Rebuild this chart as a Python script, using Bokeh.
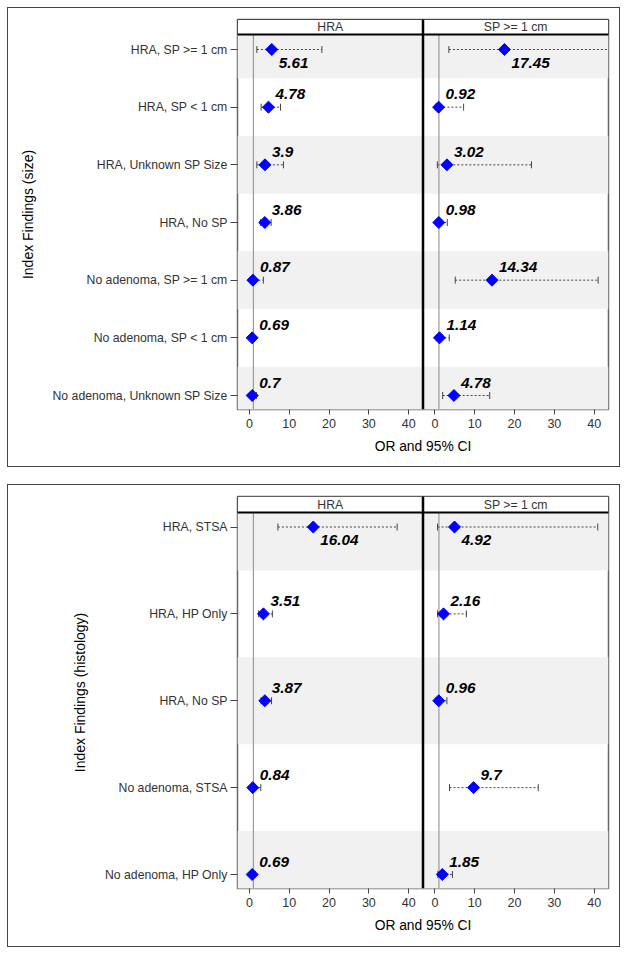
import numpy as np
from bokeh.plotting import figure
from bokeh.models import Range1d, FixedTicker, CustomJSTickFormatter, ColumnDataSource, Span
from bokeh.transform import dodge
from bokeh.layouts import column
from bokeh.embed import file_html
from bokeh.resources import INLINE
from bokeh.core.properties import value

# ---------------- data ----------------
panel_titles = ["HRA", "SP >= 1 cm"]
x_ticks = [0, 10, 20, 30, 40]
null_or = [1.0]

size_findings = ["HRA, SP >= 1 cm", "HRA, SP < 1 cm", "HRA, Unknown SP Size", "HRA, No SP",
                 "No adenoma, SP >= 1 cm", "No adenoma, SP < 1 cm", "No adenoma, Unknown SP Size"]
size_hra_or = [5.61, 4.78, 3.9, 3.86, 0.87, 0.69, 0.7]
size_hra_lo = [1.86, 2.94, 1.86, 2.75, 0.22, 0.40, 0.28]
size_hra_hi = [18.2, 7.8, 8.55, 5.45, 3.5, 1.15, 1.75]
size_sp_or = [17.45, 0.92, 3.02, 0.98, 14.34, 1.14, 4.78]
size_sp_lo = [3.5, 0.12, 0.6, 0.3, 5.1, 0.35, 1.94]
size_sp_hi = [88.0, 7.2, 24.25, 3.1, 41.0, 3.6, 13.76]

hist_findings = ["HRA, STSA", "HRA, HP Only", "HRA, No SP", "No adenoma, STSA", "No adenoma, HP Only"]
hist_hra_or = [16.04, 3.51, 3.87, 0.84, 0.69]
hist_hra_lo = [7.15, 2.33, 2.9, 0.25, 0.3]
hist_hra_hi = [37.1, 5.76, 5.55, 2.85, 1.5]
hist_sp_or = [4.92, 2.16, 0.96, 9.7, 1.85]
hist_sp_lo = [0.66, 0.66, 0.3, 3.66, 0.73]
hist_sp_hi = [40.9, 7.9, 3.0, 25.95, 4.4]

FONT = "Liberation Sans"
X0, X1 = -3.0, 43.6
W = X1 - X0


def make_block(findings, panels, ytitle, width, height, borders, header_px, pad_top, pad_bot):
    n = len(findings)
    ml, mr, mt, mb = borders
    frame_h = height - mt - mb
    data_h = frame_h - header_px
    s = (data_h - pad_top - pad_bot) / (n - 1)
    y_bottom = (n - 1) + pad_bot / s
    y_data_top = -pad_top / s
    y_top = y_data_top - header_px / s

    p = figure(width=width, height=height, title=None,
               x_range=Range1d(X0, X0 + 2 * W), y_range=Range1d(y_bottom, y_top),
               output_backend="svg", toolbar_location=None,
               min_border_left=ml, min_border_right=mr, min_border_top=mt, min_border_bottom=mb)
    p.background_fill_color = "white"
    p.border_fill_color = "white"
    p.outline_line_color = "#666666"
    p.outline_line_width = 1.5
    p.xgrid.visible = False
    p.ygrid.visible = False
    # outer box around the whole block (drawn just outside the canvas)
    p.styles = {"outline": "1px solid #444444"}

    rows = list(range(n))
    shaded = rows[::2]
    p.quad(left=X0, right=X0 + 2 * W, top=[r - 0.5 for r in shaded], bottom=[r + 0.5 for r in shaded],
           fill_color="#f1f1f1", line_color=None)

    for k, (o, lo, hi) in enumerate(panels):
        off = k * W
        src = ColumnDataSource(dict(
            y=rows, est=o, lo=lo, hi=hi,
            label=[f"{v:g}" for v in o],
            yoff=[13 if i == 0 else -13 for i in rows],
        ))
        ref = ColumnDataSource(dict(x=null_or, y0=[y_data_top], y1=[y_bottom]))
        p.segment(x0=dodge("x", off), y0="y0", x1=dodge("x", off), y1="y1", source=ref,
                  line_color="#9a9a9a", line_width=1.2)
        p.segment(x0=dodge("lo", off), y0="y", x1=dodge("hi", off), y1="y", source=src,
                  line_color="#444444", line_width=1, line_dash="2 2")
        for f in ("lo", "hi"):
            p.scatter(x=dodge(f, off), y="y", source=src, marker="dash", angle=np.pi / 2,
                      size=7, line_color="#444444", line_width=1)
        p.scatter(x=dodge("est", off), y="y", source=src, marker="square", angle=np.pi / 4,
                  size=8.5, fill_color="#0000ff", line_color="#0000ff")
        p.text(x=dodge("est", off), y="y", text="label", source=src, x_offset=7, y_offset="yoff",
               text_baseline="middle", text_align="left", text_font=value(FONT),
               text_font_style="bold italic", text_font_size="15.3px", text_color="black")

    # strip headers
    hsrc = ColumnDataSource(dict(left=[X0, X0 + W], right=[X0 + W, X0 + 2 * W],
                                 xc=[X0 + W / 2, X0 + 1.5 * W], title=panel_titles))
    p.quad(left="left", right="right", top=y_top, bottom=y_data_top, source=hsrc,
           fill_color="white", line_color="black", line_width=1)
    p.text(x="xc", y=(y_top + y_data_top) / 2, text="title", source=hsrc, text_align="center",
           text_baseline="middle", text_font=value(FONT), text_font_size="12.25px", text_color="#333333")
    p.add_layout(Span(location=y_data_top, dimension="width", line_color="black", line_width=2))
    p.add_layout(Span(location=X0 + W, dimension="height", line_color="black", line_width=2.5))

    # x axis
    xa = p.xaxis[0]
    xa.ticker = FixedTicker(ticks=x_ticks + [t + W for t in x_ticks])
    xa.formatter = CustomJSTickFormatter(args=dict(w=W),
                                         code="return String(Math.round(tick > w - 4 ? tick - w : tick));")
    xa.axis_label = "OR and 95% CI"
    xa.axis_label_text_font = FONT
    xa.axis_label_text_font_size = "13.8px"
    xa.axis_label_text_font_style = "normal"
    xa.axis_label_text_color = "black"
    xa.axis_label_standoff = 8
    xa.major_label_text_font = FONT
    xa.major_label_text_font_size = "12.5px"
    xa.major_label_text_color = "#333333"
    xa.major_label_standoff = 4
    xa.major_tick_out = 5
    xa.major_tick_in = 0
    xa.major_tick_line_color = "#444444"
    xa.axis_line_color = None

    ya = p.yaxis[0]
    ya.ticker = FixedTicker(ticks=rows)
    ya.major_label_overrides = {i: f for i, f in enumerate(findings)}
    ya.axis_label = ytitle
    ya.axis_label_text_font = FONT
    ya.axis_label_text_font_size = "14px"
    ya.axis_label_text_font_style = "normal"
    ya.axis_label_text_color = "black"
    ya.axis_label_standoff = 14
    ya.major_label_text_font = FONT
    ya.major_label_text_font_size = "12.25px"
    ya.major_label_text_color = "#333333"
    ya.major_label_standoff = 3
    ya.major_tick_out = 7
    ya.major_tick_in = 0
    ya.major_tick_line_color = "#444444"
    ya.axis_line_color = None
    return p


p1 = make_block(size_findings,
                [(size_hra_or, size_hra_lo, size_hra_hi), (size_sp_or, size_sp_lo, size_sp_hi)],
                "Index Findings (size)", 611, 458, (229, 11, 11, 57), 15, 15, 14)
p2 = make_block(hist_findings,
                [(hist_hra_or, hist_hra_lo, hist_hra_hi), (hist_sp_or, hist_sp_lo, hist_sp_hi)],
                "Index Findings (histology)", 611, 461, (175, 10, 11, 58), 16, 14.5, 14)

layout = column(p1, p2, spacing=19, margin=(8, 0, 0, 8))
open("out.html", "w").write(file_html(layout, INLINE))
